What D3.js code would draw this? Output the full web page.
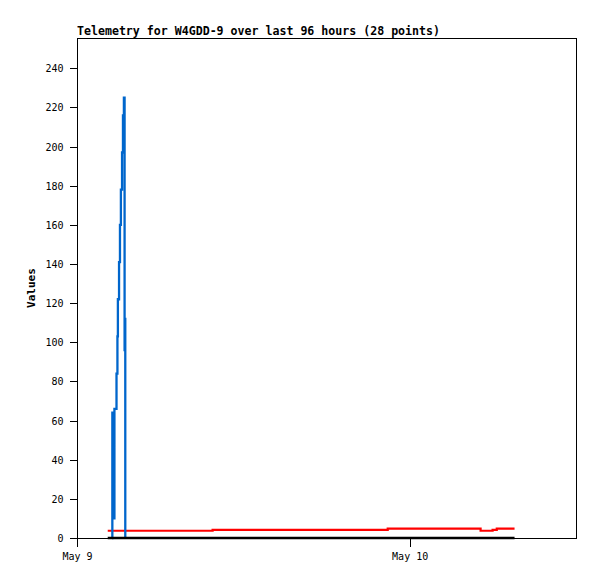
<!DOCTYPE html>
<html>
<head>
<meta charset="utf-8">
<script src="https://cdn.jsdelivr.net/npm/d3@7"></script>
<style>
    body { margin: 0; background: #fff; }
    svg { display: block; }
</style>
</head>
<body>
<svg id="mainsvg" width="597" height="579"></svg>
<script>
// telemetry series
let blueTimes = ["2024-05-09 02:32", "2024-05-09 02:33", "2024-05-09 02:36", "2024-05-09 02:38",
    "2024-05-09 02:40", "2024-05-09 02:42", "2024-05-09 02:51", "2024-05-09 02:55",
    "2024-05-09 02:57", "2024-05-09 03:02", "2024-05-09 03:06", "2024-05-09 03:10",
    "2024-05-09 03:15", "2024-05-09 03:19", "2024-05-09 03:23", "2024-05-09 03:26",
    "2024-05-09 03:27", "2024-05-09 03:29"];
let blueValues = [0, 64, 28, 47, 10, 66, 84, 103, 122, 141, 160, 178, 197, 216, 225, 96, 112, 0];

let redTimes = ["2024-05-09 02:13", "2024-05-09 09:47", "2024-05-09 22:25", "2024-05-10 05:07",
    "2024-05-10 05:59", "2024-05-10 06:17", "2024-05-10 07:34"];
let redValues = [3.7, 4.2, 4.8, 3.7, 4.2, 4.8, 4.8];

let blackTimes = ["2024-05-09 02:13", "2024-05-10 07:34"];
let blackValues = [0, 0];

let yTicks = [0, 20, 40, 60, 80, 100, 120, 140, 160, 180, 200, 220, 240];
let xTicks = ["2024-05-09 00:00", "2024-05-10 00:00"];
let xDomain = ["2024-05-09 00:00", "2024-05-10 12:00"];
let yDomain = [0, 255.5];

let titleText = "Telemetry for W4GDD-9 over last 96 hours (28 points)";
let yLabel = "Values";

let parse = d3.timeParse("%Y-%m-%d %H:%M");
let svg = d3.select("#mainsvg");

let plotLeft = 77, plotTop = 38, plotRight = 576, plotBottom = 538;

let x = d3.scaleTime().domain(xDomain.map(parse)).range([plotLeft, plotRight]);
let y = d3.scaleLinear().domain(yDomain).range([plotBottom, plotTop]);

svg.append("rect").attr("width", 597).attr("height", 579).attr("fill", "#fff");

// frame
svg.append("rect")
    .attr("x", plotLeft + 0.5).attr("y", plotTop + 0.5)
    .attr("width", plotRight - plotLeft).attr("height", plotBottom - plotTop)
    .attr("fill", "none").attr("stroke", "#000").attr("stroke-width", 1)
    .attr("shape-rendering", "crispEdges");

// axes
let yAxis = d3.axisLeft(y).tickValues(yTicks).tickSize(8).tickPadding(6).tickSizeOuter(0);
let yg = svg.append("g").attr("transform", "translate(" + (plotLeft + 0.5) + ",0)").call(yAxis);
let xAxis = d3.axisBottom(x).tickValues(xTicks.map(parse)).tickSize(8).tickPadding(6)
    .tickSizeOuter(0).tickFormat(d3.timeFormat("%b %-d"));
let xg = svg.append("g").attr("transform", "translate(0," + (plotBottom + 0.5) + ")").call(xAxis);

[yg, xg].forEach(g => {
    g.select(".domain").remove();
    g.selectAll("line").attr("stroke", "#000").attr("shape-rendering", "crispEdges");
    g.selectAll("text")
        .attr("fill", "#000")
        .style("font-family", "'DejaVu Sans Mono', monospace")
        .style("font-size", "10px");
});
yg.selectAll("text").attr("dy", "0.35em");
xg.selectAll("text").attr("dy", "0.75em");

// series
let lineOf = function (times, values) {
    let pts = times.map((t, i) => [parse(t), values[i]]);
    return d3.line().x(d => x(d[0])).y(d => y(d[1])).curve(d3.curveStepAfter)(pts);
};

svg.append("path").attr("d", lineOf(redTimes, redValues))
    .attr("fill", "none").attr("stroke", "#ff0000").attr("stroke-width", 2.2);
svg.append("path").attr("d", lineOf(blueTimes, blueValues))
    .attr("fill", "none").attr("stroke", "#0066cc").attr("stroke-width", 2.3);
svg.append("path").attr("d", lineOf(blackTimes, blackValues))
    .attr("fill", "none").attr("stroke", "#000").attr("stroke-width", 2.5);

// title
svg.append("text")
    .attr("x", plotLeft).attr("y", 35)
    .attr("textLength", 363).attr("lengthAdjust", "spacingAndGlyphs")
    .style("font-family", "'DejaVu Sans Mono', monospace")
    .style("font-size", "11.5px").style("font-weight", "bold")
    .text(titleText);

// y label
svg.append("text")
    .attr("transform", "translate(35," + ((plotTop + plotBottom) / 2) + ") rotate(-90)")
    .attr("text-anchor", "middle")
    .style("font-family", "'DejaVu Sans Mono', monospace")
    .style("font-size", "11px").style("font-weight", "bold")
    .text(yLabel);
</script>
</body>
</html>
